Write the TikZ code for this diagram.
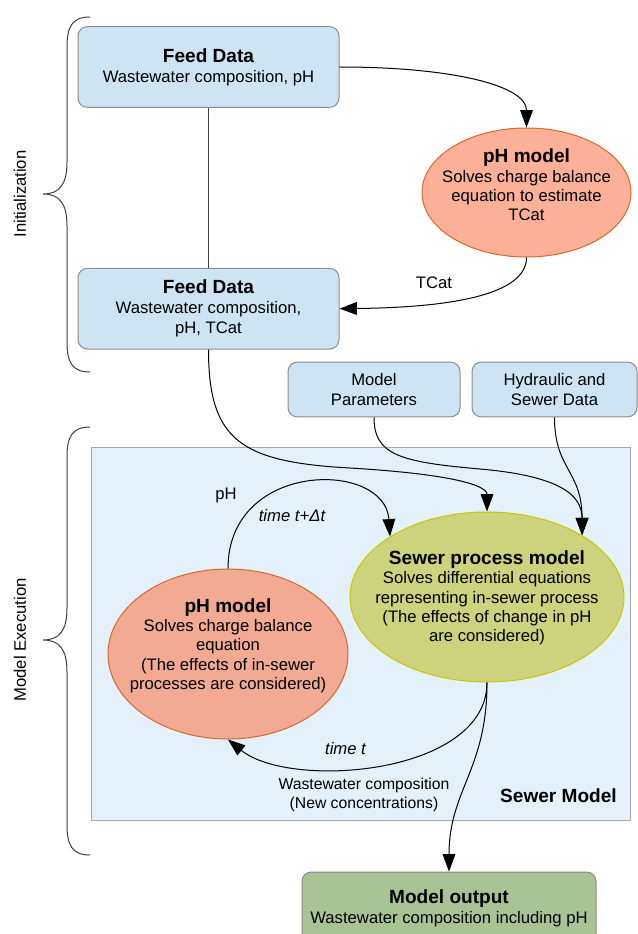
\documentclass[tikz,border=0pt]{standalone}
\usepackage{fontspec}
\setmainfont{Liberation Sans}
\usetikzlibrary{arrows.meta, positioning, calc, shapes.geometric}
\definecolor{feedblue}{HTML}{CFE4F2}
\definecolor{sewerbg}{HTML}{E4F1FA}
\definecolor{phlight}{HTML}{FCB097}
\definecolor{phdark}{HTML}{F2AA92}
\definecolor{phline}{HTML}{D9672E}
\definecolor{procfill}{HTML}{CDD37C}
\definecolor{procline}{HTML}{C8C800}
\definecolor{outgreen}{HTML}{AAC394}
\definecolor{edgegray}{HTML}{8C8C8C}

\newcommand{\hd}[1]{{\fontsize{14.3}{17}\selectfont\bfseries #1}}

\begin{document}
\begin{tikzpicture}[x=0.75pt, y=-0.75pt,
      box/.style={draw=edgegray, fill=feedblue, rounded corners=7pt, align=center,
                  font=\fontsize{12.5}{15}\selectfont, line width=0.75pt, inner sep=0pt},
      feed/.style={box, minimum width=195.75pt, minimum height=60.5pt},
      oval/.style={ellipse, line width=0.75pt, inner sep=0pt},
      txt/.style={align=center, inner sep=0pt, font=\fontsize{12.5}{14.5}\selectfont},
      flow/.style={-{Triangle[length=13pt, width=9.5pt]}, line width=0.75pt},
      curly/.style={draw=black!75, line width=0.75pt}
    ]
    \useasboundingbox (0,0) rectangle (638,934);

    % initialization part
    \node[feed] (feedA) at (208.5,67) {\hd{Feed Data}\\Wastewater composition, pH};
    \node[feed, below=120pt of feedA] (feedB) {\hd{Feed Data}\\Wastewater composition,\\pH, TCat};
    \node[oval, fill=phlight, draw=phline, minimum width=156.75pt, minimum height=96.75pt]
      (phA) at (526.5,192.5) {};
    \node[txt] (phAtxt) at (526.5,185)
      {\hd{pH model}\\Solves charge balance\\equation to estimate\\TCat};

    \draw[black!75, line width=0.75pt] (feedA.south) -- (feedB.north);
    \draw[flow] (feedA.east) .. controls (450,67) and (526.5,85) .. (phA.north);
    \draw[flow] (phA.south) .. controls (526.5,295) and (450,307.5) .. (feedB.east);
    \node[txt] (tcat) at (434,283) {TCat};

    % inputs
    \node[box, minimum width=129pt, minimum height=41pt] (params) at (374,389.5)
      {Model\\Parameters};
    \node[box, minimum width=123.75pt, minimum height=41pt, right=8.25pt of params] (hydro)
      {Hydraulic and\\Sewer Data};

    % sewer model
    \node[draw=edgegray!75, fill=sewerbg, line width=0.75pt, minimum width=404.25pt,
          minimum height=279.75pt, inner sep=0pt] (sewer) at (360.5,633.5) {};
    \node[txt, font=\fontsize{14.3}{17}\selectfont\bfseries] (sewerlbl) at (558.5,796)
      {Sewer Model};

    \node[oval, fill=procfill, draw=procline, minimum width=205.5pt, minimum height=127.5pt]
      (spm) at (487,597) {};
    \node[txt] (spmtxt) at (487,598)
      {\hd{Sewer process model}\\Solves differential equations\\representing in-sewer process\\
       (The effects of change in pH\\are considered)};
    \node[oval, fill=phdark, draw=phline, minimum width=180pt, minimum height=127.5pt]
      (phB) at (228,654) {};
    \node[txt] (phBtxt) at (228,645.5)
      {\hd{pH model}\\Solves charge balance\\equation\\(The effects of in-sewer\\processes are considered)};

    \node[box, fill=outgreen, minimum width=220.5pt, minimum height=54pt] (output) at (449,908)
      {\hd{Model output}\\Wastewater composition including pH};

    % connectors
    \draw[flow] (feedB.south) .. controls (208.5,440) and (240,462) .. (350,468)
      .. controls (450,474) and (487,485) .. (spm.north);
    \draw[flow] (params.south) .. controls (374,455) and (400,462) .. (480,469)
      .. controls (560,476) and (582,495) .. (spm.33);
    \draw[flow] (hydro.south) .. controls (hydro.south |- 0,470) and (582,470) .. (spm.33);
    \draw[flow] (phB.north) .. controls (228,460) and (385,460) .. (spm.148);
    \node[txt] (phlbl) at (226,495) {pH};
    \node[txt] (dtlbl) at (292,516) {\itshape time t+Δt};
    \draw[flow] (spm.south) .. controls (487,775) and (290,790) .. (phB.south);
    \node[txt] (tlbl) at (345.5,749) {\itshape time t};
    \node[txt, font=\fontsize{11.8}{14}\selectfont] (wclbl) at (364,795)
      {Wastewater composition\\(New concentrations)};
    \draw[flow] (spm.south) .. controls (487,770) and (449,790) .. (output.north);

    % braces
    \draw[curly] (90,17) .. controls (72,17) and (67,27) .. (67,47) -- (67,162)
      .. controls (67,184) and (60,194) .. (43,194) .. controls (60,194) and (67,204) .. (67,226)
      -- (67,342) .. controls (67,362) and (72,372) .. (90,372);
    \draw[curly] (90,427) .. controls (72,427) and (67,437) .. (67,457) -- (67,608)
      .. controls (67,630) and (60,640) .. (43,640) .. controls (60,640) and (67,650) .. (67,672)
      -- (67,825) .. controls (67,845) and (72,855) .. (90,855);
    \node[txt, rotate=90] (initlbl) at (20,194) {Initialization};
    \node[txt, rotate=90] (execlbl) at (20,640) {Model Execution};
  \end{tikzpicture}
\end{document}
